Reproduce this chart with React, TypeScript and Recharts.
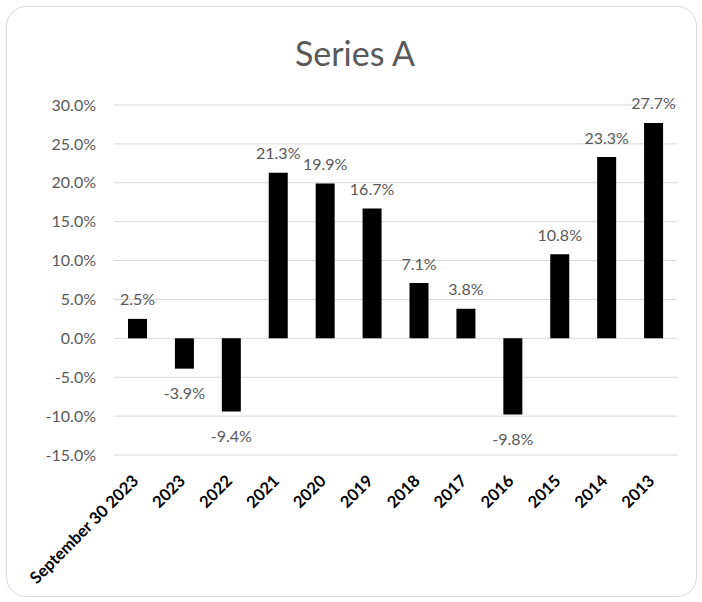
import { BarChart, Bar, XAxis, YAxis, CartesianGrid, LabelList } from 'recharts';

const periods = [
  'September 30 2023', '2023', '2022', '2021', '2020', '2019',
  '2018', '2017', '2016', '2015', '2014', '2013',
];
const returns = [2.5, -3.9, -9.4, 21.3, 19.9, 16.7, 7.1, 3.8, -9.8, 10.8, 23.3, 27.7];
const yTicks = [-15, -10, -5, 0, 5, 10, 15, 20, 25, 30];

const data = periods.map((period, i) => ({ period, value: returns[i] }));

const FONT = 'Lato, "Open Sans", sans-serif';
const GREY = '#595959';

const pct = (v: number) => `${v.toFixed(1)}%`;

function PeriodTick({ x, y, payload }: any) {
  const ax = x + 2;
  const ay = y + 27;
  return (
    <text
      x={ax}
      y={ay}
      transform={`rotate(-45, ${ax}, ${ay})`}
      textAnchor="end"
      fontFamily={FONT}
      fontSize={16.5}
      fontWeight="bold"
      fill="#000"
    >
      {payload.value}
    </text>
  );
}

function ValueLabel({ x, y, width, height, value }: any) {
  const v = Number(value);
  const cx = x + width / 2;
  const top = Math.min(y, y + height);
  const bottom = Math.max(y, y + height);
  // positive bars: label above the top; negative bars: below the bottom
  const cy = v >= 0 ? top - 20 : bottom + 24;
  return (
    <text
      x={cx}
      y={cy}
      textAnchor="middle"
      dominantBaseline="central"
      fontFamily={FONT}
      fontSize={16}
      fill={GREY}
    >
      {pct(v)}
    </text>
  );
}

export default function App() {
  return (
    <div style={{ position: 'fixed', left: 0, top: 0, width: 702, height: 602, background: '#fff' }}>
      <div
        style={{
          position: 'absolute',
          left: 6,
          top: 6,
          width: 691,
          height: 591,
          border: '1px solid #d9d9d9',
          borderRadius: 20,
          boxSizing: 'border-box',
        }}
      />
      <div
        style={{
          position: 'absolute',
          left: 0,
          top: 36,
          width: 710,
          textAlign: 'center',
          fontFamily: FONT,
          fontSize: 34,
          color: GREY,
          lineHeight: '34px',
        }}
      >
        Series A
      </div>
      <div style={{ position: 'absolute', left: 0, top: 0 }}>
        <BarChart
          width={702}
          height={602}
          data={data}
          margin={{ top: 105, right: 25, bottom: 0, left: 0 }}
        >
          <CartesianGrid vertical={false} stroke="#d9d9d9" strokeWidth={1} />
          <XAxis
            dataKey="period"
            interval={0}
            axisLine={false}
            tickLine={false}
            tickSize={0}
            tickMargin={0}
            height={147}
            tick={<PeriodTick />}
          />
          <YAxis
            width={114}
            domain={[-15, 30]}
            ticks={yTicks}
            allowDataOverflow
            axisLine={false}
            tickLine={false}
            tickSize={0}
            tickMargin={18}
            tickFormatter={pct}
            tick={{ fontFamily: FONT, fontSize: 16, fill: GREY }}
          />
          <Bar dataKey="value" fill="#000" barSize={19} isAnimationActive={false}>
            <LabelList dataKey="value" content={<ValueLabel />} />
          </Bar>
        </BarChart>
      </div>
    </div>
  );
}
